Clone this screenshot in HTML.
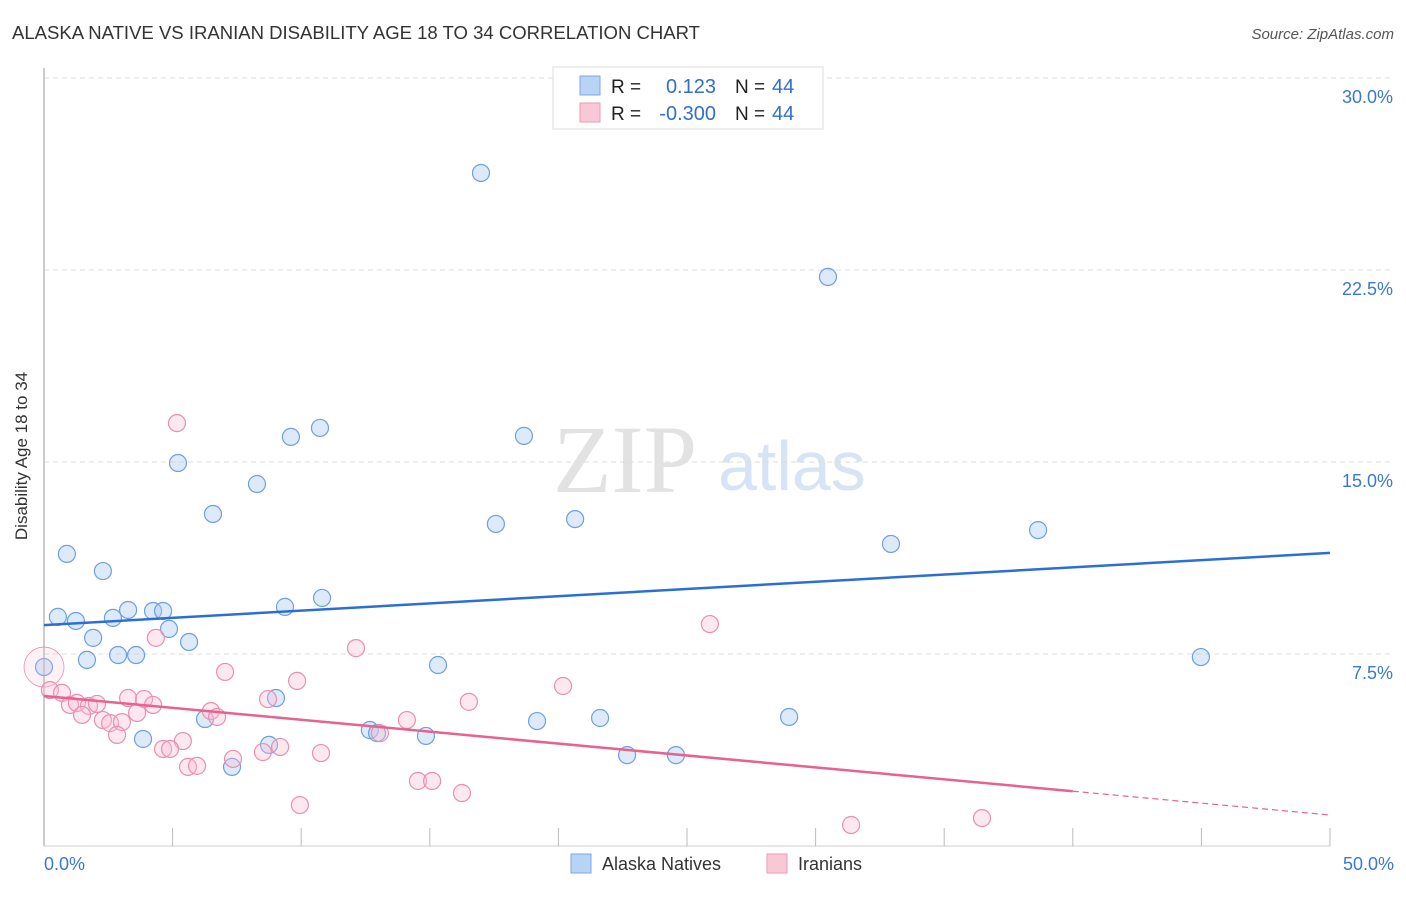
<!DOCTYPE html>
<html><head><meta charset="utf-8"><style>
body{margin:0;background:#fff;font-family:"Liberation Sans",sans-serif}
</style></head><body>
<svg width="1406" height="892" viewBox="0 0 1406 892" xmlns="http://www.w3.org/2000/svg">
<text x="12" y="39" font-size="18" fill="#333" textLength="688" lengthAdjust="spacingAndGlyphs">ALASKA NATIVE VS IRANIAN DISABILITY AGE 18 TO 34 CORRELATION CHART</text>
<text x="1394" y="39" font-size="15" fill="#555" font-style="italic" text-anchor="end">Source: ZipAtlas.com</text>
<g>
<text x="553" y="492" font-size="96" font-family="Liberation Serif,serif" fill="#e2e2e2">ZIP</text>
<text x="718" y="490" font-size="70" fill="#d6e4f5">atlas</text>
</g>
<g id="grid"></g>
<g id="axes"></g>
<text x="27" y="456" font-size="17" fill="#333" text-anchor="middle" transform="rotate(-90 27 456)">Disability Age 18 to 34</text>
<g id="pts"></g>
<g id="lines"></g>
<g>
<rect x="553" y="67" width="270" height="62" fill="#fff" stroke="#ddd"/>
<rect x="580" y="76" width="20" height="19" fill="#b8d4f5" stroke="#7aa8e6"/>
<rect x="580" y="103" width="20" height="19" fill="#f9c8d6" stroke="#ea9ab4"/>
<text x="611" y="93" font-size="19" fill="#222">R =</text>
<text x="716" y="93" font-size="20" fill="#2f6fd0" text-anchor="end">0.123</text>
<text x="735" y="93" font-size="19" fill="#222">N =</text>
<text x="772" y="93" font-size="20" fill="#2f6fd0">44</text>
<text x="611" y="120" font-size="19" fill="#222">R =</text>
<text x="716" y="120" font-size="20" fill="#2f6fd0" text-anchor="end">-0.300</text>
<text x="735" y="120" font-size="19" fill="#222">N =</text>
<text x="772" y="120" font-size="20" fill="#2f6fd0">44</text>
</g>
<g>
<rect x="571" y="854" width="20" height="19" fill="#b8d4f5" stroke="#7aa8e6"/>
<text x="602" y="870" font-size="18" fill="#333">Alaska Natives</text>
<rect x="767" y="854" width="20" height="19" fill="#f9c8d6" stroke="#ea9ab4"/>
<text x="798" y="870" font-size="18" fill="#333">Iranians</text>
</g>
</svg>
<script>
const NS="http://www.w3.org/2000/svg";
const yTicks=[7.5,15,22.5,30];
const yTickLabels=["7.5%","15.0%","22.5%","30.0%"];
const xTickLabels=["0.0%","50.0%"];
const alaskaX=[16.99,30.48,10.73,9.60,18.66,5.21,8.28,6.57,20.65,17.57,38.65,32.93,0.89,2.29,10.81,0.54,1.24,3.27,4.24,4.63,2.68,9.37,4.86,1.91,5.64,1.67,2.88,3.58,15.32,44.98,0,9.02,6.26,19.17,21.62,28.97,12.67,12.95,14.85,3.85,8.75,7.31,22.67,24.57];
const alaskaY=[26.29,22.23,16.33,15.98,16.02,14.96,14.14,12.97,12.77,12.58,12.34,11.80,11.41,10.74,9.69,8.95,8.79,9.22,9.18,9.18,8.91,9.34,8.48,8.13,7.97,7.27,7.46,7.46,7.07,7.38,6.99,5.78,4.96,4.88,5.00,5.04,4.53,4.41,4.30,4.18,3.95,3.09,3.55,3.55];
const iranX=[5.17,25.89,4.35,12.13,7.04,9.84,20.18,0,0.23,0.70,1.01,1.28,1.75,2.06,3.27,3.89,4.24,1.48,2.29,2.57,3.03,3.62,2.84,6.49,6.73,8.71,16.52,14.11,13.06,5.40,4.63,4.90,7.35,8.51,9.18,10.77,5.60,5.95,14.54,15.09,16.25,9.95,31.38,36.47];
const iranY=[16.52,8.67,8.13,7.73,6.80,6.45,6.25,6.99,6.09,5.98,5.51,5.59,5.47,5.55,5.78,5.74,5.51,5.12,4.92,4.80,4.84,5.20,4.34,5.27,5.04,5.74,5.63,4.92,4.41,4.10,3.79,3.79,3.40,3.67,3.87,3.63,3.09,3.13,2.54,2.54,2.07,1.60,0.82,1.09];
const alaskaTrend=[8.63,11.45];
const iranTrend=[5.86,1.21];
const iranSolidEnd=40;
const X=v=>44+v/50*1286, Y=v=>846-v/7.5*192;
function mk(t,a,p){const e=document.createElementNS(NS,t);for(const k in a)e.setAttribute(k,a[k]);p.appendChild(e);return e;}
const grid=document.getElementById('grid'),axes=document.getElementById('axes'),pts=document.getElementById('pts'),lines=document.getElementById('lines');
yTicks.forEach((t,i)=>{
 const l=mk('line',{x1:44,x2:1394,y1:Y(t),y2:Y(t),stroke:'#ddd','stroke-dasharray':'5 4'},grid);
 
 
 const tx=mk('text',{x:1393,y:Y(t)+25,'font-size':18,fill:'#3a78d4','text-anchor':'end'},grid);
 tx.textContent=yTickLabels[i];
 
 
});
const ya=mk('line',{x1:44,x2:44,y1:68,y2:846,stroke:'#bbb','stroke-width':1.5},axes);


const xa=mk('line',{x1:44,x2:1330,y1:846,y2:846,stroke:'#ccc'},axes);


for(let v=5;v<=50;v+=5){const tk=mk('line',{x1:X(v),x2:X(v),y1:828,y2:846,stroke:'#bbb'},axes);
 
 }
[[0,'start',44],[50,'end',1394]].forEach((d,i)=>{const tx=mk('text',{x:d[2],y:870,'font-size':18,fill:'#3a78d4','text-anchor':d[1]},axes);tx.textContent=xTickLabels[i];
 
 });
alaskaX.forEach((x,i)=>{const c=mk('circle',{cx:X(x),cy:Y(alaskaY[i]),r:8.5,fill:'rgba(170,202,240,0.4)',stroke:'#6e9fe0','stroke-width':1.2},pts);
 
 });
iranX.forEach((x,i)=>{const c=mk('circle',{cx:X(x),cy:Y(iranY[i]),r:i==7?20:8.5,fill:i==7?'rgba(248,190,208,0.2)':'rgba(248,190,208,0.35)',stroke:'#e890ad','stroke-width':i==7?0.8:1.2},pts);
 
 });
const bl=mk('line',{x1:X(0),y1:Y(alaskaTrend[0]),x2:X(50),y2:Y(alaskaTrend[1]),stroke:'#2a6fd6','stroke-width':2.5},lines);


const iy=v=>iranTrend[0]+(iranTrend[1]-iranTrend[0])*v/50;
const pl=mk('line',{x1:X(0),y1:Y(iy(0)),x2:X(iranSolidEnd),y2:Y(iy(iranSolidEnd)),stroke:'#e8628e','stroke-width':2.5},lines);


const pd=mk('line',{x1:X(iranSolidEnd),y1:Y(iy(iranSolidEnd)),x2:X(50),y2:Y(iy(50)),stroke:'#e8628e','stroke-width':1.2,'stroke-dasharray':'6 4'},lines);


</script>
</body></html>
